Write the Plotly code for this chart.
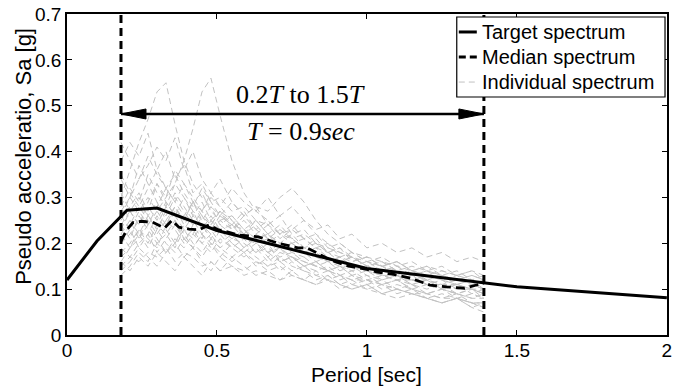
import plotly.graph_objects as go

# ---------------- data ----------------
target_T = [0.0, 0.1, 0.2, 0.3, 0.5, 0.75, 1.0, 1.5, 2.0]
target_Sa = [0.12, 0.205, 0.272, 0.277, 0.228, 0.187, 0.145, 0.105, 0.081]

median_T = [0.18, 0.20, 0.22, 0.25, 0.285, 0.31, 0.325, 0.35, 0.373, 0.407, 0.44, 0.473,
            0.506, 0.54, 0.572, 0.638, 0.70, 0.77, 0.80, 0.836, 0.88, 0.94, 1.0, 1.035,
            1.09, 1.145, 1.21, 1.266, 1.326, 1.365, 1.39]
median_Sa = [0.205, 0.23, 0.245, 0.248, 0.246, 0.238, 0.233, 0.25, 0.235, 0.231, 0.229, 0.24,
             0.229, 0.224, 0.218, 0.214, 0.201, 0.19, 0.19, 0.178, 0.163, 0.15, 0.143, 0.137,
             0.132, 0.124, 0.109, 0.105, 0.102, 0.109, 0.113]

indiv_T = [0.18, 0.21, 0.24, 0.27, 0.30, 0.33, 0.36, 0.39, 0.42, 0.45, 0.48, 0.51, 0.55, 0.59,
           0.63, 0.67, 0.71, 0.75, 0.79, 0.83, 0.87, 0.91, 0.95, 1.00, 1.05, 1.10, 1.15, 1.20,
           1.25, 1.30, 1.35, 1.39]

indiv_Sa = [
    [0.30,0.36,0.42,0.47,0.53,0.55,0.46,0.38,0.33,0.30,0.28,0.26,0.24,0.23,0.21,0.22,0.20,0.19,0.18,0.17,0.16,0.15,0.15,0.14,0.13,0.13,0.12,0.12,0.11,0.11,0.10,0.10],
    [0.20,0.22,0.25,0.24,0.27,0.30,0.33,0.38,0.45,0.53,0.56,0.48,0.38,0.31,0.27,0.25,0.22,0.21,0.19,0.18,0.17,0.16,0.15,0.14,0.13,0.12,0.12,0.11,0.11,0.10,0.10,0.09],
    [0.25,0.28,0.31,0.27,0.33,0.30,0.36,0.33,0.29,0.31,0.27,0.25,0.26,0.23,0.21,0.22,0.19,0.20,0.18,0.17,0.16,0.17,0.15,0.14,0.15,0.13,0.12,0.13,0.12,0.11,0.12,0.11],
    [0.15,0.17,0.16,0.18,0.17,0.19,0.16,0.18,0.17,0.15,0.16,0.14,0.15,0.13,0.14,0.13,0.12,0.13,0.12,0.11,0.12,0.10,0.11,0.10,0.09,0.10,0.09,0.08,0.09,0.08,0.07,0.07],
    [0.38,0.42,0.39,0.44,0.36,0.40,0.34,0.37,0.31,0.33,0.29,0.30,0.27,0.28,0.25,0.24,0.26,0.22,0.23,0.20,0.19,0.18,0.17,0.16,0.15,0.16,0.14,0.13,0.14,0.13,0.12,0.13],
    [0.22,0.25,0.21,0.26,0.24,0.22,0.25,0.21,0.23,0.20,0.22,0.19,0.21,0.20,0.18,0.19,0.17,0.18,0.16,0.15,0.14,0.15,0.13,0.12,0.11,0.12,0.10,0.11,0.10,0.09,0.10,0.09],
    [0.18,0.20,0.23,0.21,0.19,0.24,0.27,0.25,0.29,0.26,0.24,0.27,0.23,0.25,0.22,0.24,0.21,0.23,0.25,0.22,0.20,0.18,0.17,0.15,0.14,0.13,0.12,0.11,0.10,0.09,0.08,0.08],
    [0.24,0.21,0.26,0.23,0.20,0.22,0.19,0.23,0.21,0.24,0.22,0.25,0.23,0.26,0.28,0.27,0.30,0.32,0.29,0.25,0.22,0.20,0.18,0.17,0.16,0.15,0.14,0.13,0.12,0.11,0.12,0.10],
    [0.28,0.32,0.29,0.35,0.31,0.28,0.33,0.30,0.26,0.29,0.25,0.23,0.24,0.21,0.20,0.18,0.19,0.17,0.16,0.15,0.14,0.13,0.12,0.12,0.11,0.10,0.09,0.09,0.08,0.08,0.07,0.07],
    [0.13,0.15,0.18,0.16,0.20,0.18,0.21,0.19,0.22,0.20,0.18,0.21,0.19,0.17,0.19,0.16,0.18,0.17,0.15,0.16,0.14,0.13,0.14,0.12,0.13,0.12,0.11,0.10,0.11,0.09,0.10,0.09],
    [0.34,0.30,0.37,0.33,0.29,0.26,0.30,0.27,0.24,0.27,0.31,0.28,0.25,0.22,0.24,0.21,0.19,0.20,0.18,0.19,0.17,0.16,0.17,0.15,0.14,0.13,0.14,0.12,0.11,0.12,0.11,0.10],
    [0.21,0.24,0.28,0.25,0.22,0.25,0.23,0.20,0.24,0.21,0.25,0.22,0.19,0.21,0.18,0.20,0.16,0.17,0.15,0.16,0.14,0.15,0.13,0.14,0.12,0.13,0.11,0.12,0.10,0.11,0.09,0.10],
    [0.26,0.23,0.27,0.30,0.27,0.24,0.28,0.25,0.29,0.27,0.30,0.28,0.32,0.29,0.27,0.30,0.26,0.28,0.25,0.23,0.24,0.21,0.22,0.19,0.20,0.18,0.19,0.17,0.18,0.16,0.17,0.16],
    [0.17,0.19,0.22,0.19,0.23,0.20,0.18,0.21,0.19,0.17,0.20,0.18,0.16,0.18,0.15,0.17,0.14,0.16,0.14,0.13,0.12,0.13,0.11,0.12,0.10,0.11,0.10,0.09,0.08,0.09,0.07,0.06],
    [0.42,0.38,0.34,0.39,0.35,0.32,0.35,0.31,0.28,0.32,0.29,0.26,0.29,0.26,0.23,0.25,0.22,0.20,0.21,0.19,0.18,0.17,0.16,0.17,0.15,0.14,0.15,0.14,0.13,0.12,0.13,0.12],
    [0.23,0.27,0.24,0.29,0.33,0.29,0.26,0.30,0.27,0.23,0.26,0.23,0.21,0.23,0.20,0.18,0.20,0.18,0.17,0.18,0.16,0.17,0.15,0.16,0.14,0.15,0.13,0.14,0.13,0.12,0.13,0.12],
    [0.19,0.17,0.20,0.22,0.18,0.21,0.24,0.21,0.19,0.22,0.20,0.17,0.20,0.18,0.16,0.15,0.17,0.15,0.14,0.12,0.13,0.11,0.12,0.10,0.11,0.09,0.10,0.08,0.07,0.08,0.06,0.05],
    [0.31,0.27,0.24,0.28,0.25,0.29,0.26,0.23,0.26,0.24,0.21,0.24,0.22,0.19,0.22,0.20,0.22,0.24,0.21,0.19,0.20,0.17,0.18,0.16,0.15,0.16,0.14,0.15,0.14,0.13,0.14,0.13],
    [0.27,0.30,0.34,0.37,0.41,0.38,0.43,0.36,0.40,0.34,0.31,0.34,0.29,0.26,0.28,0.24,0.22,0.23,0.21,0.22,0.19,0.20,0.18,0.16,0.17,0.15,0.16,0.14,0.15,0.13,0.14,0.12],
    [0.16,0.14,0.17,0.15,0.18,0.16,0.14,0.17,0.15,0.13,0.16,0.14,0.17,0.15,0.13,0.14,0.15,0.13,0.12,0.14,0.12,0.11,0.10,0.11,0.09,0.10,0.09,0.08,0.07,0.08,0.07,0.06],
    [0.24,0.27,0.30,0.26,0.29,0.25,0.28,0.24,0.27,0.25,0.23,0.26,0.24,0.22,0.20,0.21,0.19,0.20,0.18,0.16,0.17,0.15,0.14,0.15,0.13,0.12,0.13,0.11,0.12,0.10,0.11,0.10],
    [0.20,0.23,0.19,0.22,0.26,0.23,0.20,0.24,0.22,0.26,0.23,0.20,0.22,0.19,0.21,0.18,0.16,0.17,0.15,0.14,0.15,0.13,0.12,0.13,0.11,0.12,0.10,0.09,0.10,0.09,0.08,0.09],
    [0.29,0.25,0.22,0.26,0.23,0.27,0.31,0.28,0.25,0.22,0.25,0.27,0.24,0.27,0.23,0.21,0.23,0.21,0.19,0.20,0.18,0.19,0.17,0.15,0.16,0.14,0.13,0.14,0.12,0.13,0.11,0.12],
    [0.16,0.19,0.21,0.24,0.21,0.18,0.20,0.23,0.20,0.18,0.21,0.19,0.17,0.19,0.17,0.15,0.16,0.14,0.15,0.13,0.14,0.12,0.13,0.11,0.12,0.10,0.11,0.09,0.10,0.08,0.09,0.08],
    [0.35,0.31,0.28,0.32,0.36,0.32,0.29,0.26,0.29,0.25,0.28,0.24,0.26,0.23,0.25,0.22,0.24,0.21,0.22,0.20,0.18,0.19,0.16,0.17,0.15,0.16,0.14,0.15,0.13,0.14,0.12,0.11],
    [0.22,0.19,0.23,0.20,0.24,0.28,0.25,0.22,0.19,0.22,0.19,0.23,0.20,0.18,0.20,0.17,0.19,0.16,0.17,0.15,0.16,0.14,0.15,0.13,0.12,0.13,0.11,0.12,0.10,0.11,0.10,0.08],
    [0.26,0.30,0.27,0.24,0.28,0.32,0.29,0.33,0.30,0.27,0.24,0.27,0.25,0.22,0.25,0.22,0.20,0.22,0.19,0.21,0.18,0.16,0.17,0.15,0.16,0.14,0.13,0.12,0.13,0.11,0.12,0.11],
    [0.14,0.16,0.19,0.17,0.15,0.18,0.20,0.17,0.19,0.16,0.14,0.17,0.15,0.14,0.16,0.14,0.12,0.14,0.12,0.11,0.13,0.11,0.10,0.11,0.09,0.08,0.09,0.08,0.07,0.08,0.06,0.07],
]

T_fund = 0.9
bound_T = [0.18, 1.39]
arrow_Sa = 0.482
x_ticks = [0, 0.5, 1, 1.5, 2]
x_ticktext = ["0", "0.5", "1", "1.5", "2"]
y_ticks = [0, 0.1, 0.2, 0.3, 0.4, 0.5, 0.6, 0.7]
y_ticktext = ["0", "0.1", "0.2", "0.3", "0.4", "0.5", "0.6", "0.7"]
legend_labels = ["Target spectrum", "Median spectrum", "Individual spectrum"]

# ---------------- figure ----------------
fig = go.Figure()

for s in indiv_Sa:
    fig.add_trace(go.Scatter(x=indiv_T, y=s, mode="lines",
                             line=dict(color="#c2c2c2", width=1, dash="6px,4px"),
                             showlegend=False, hoverinfo="skip"))

for bx in bound_T:
    fig.add_trace(go.Scatter(x=[bx, bx], y=[0, 0.7], mode="lines",
                             line=dict(color="black", width=3, dash="8px,5px"),
                             showlegend=False, hoverinfo="skip"))

fig.add_trace(go.Scatter(x=target_T, y=target_Sa, mode="lines",
                         line=dict(color="black", width=3), showlegend=False))
fig.add_trace(go.Scatter(x=median_T, y=median_Sa, mode="lines",
                         line=dict(color="black", width=2.8, dash="9px,5px"), showlegend=False))

# double arrow: shaft + two narrow filled heads (pixel-sized, anchored in data coords)
fig.add_shape(type="line", xref="x", yref="y", x0=bound_T[0], x1=bound_T[1],
              y0=arrow_Sa, y1=arrow_Sa, line=dict(color="black", width=2.5), layer="above")
fig.add_shape(type="path", xref="x", yref="y", xsizemode="pixel", ysizemode="pixel",
              xanchor=bound_T[0], yanchor=arrow_Sa, path="M0,0 L25,5 L25,-5 Z",
              fillcolor="black", line=dict(color="black", width=1), layer="above")
fig.add_shape(type="path", xref="x", yref="y", xsizemode="pixel", ysizemode="pixel",
              xanchor=bound_T[1], yanchor=arrow_Sa, path="M0,0 L-25,5 L-25,-5 Z",
              fillcolor="black", line=dict(color="black", width=1), layer="above")

serif = dict(family="Liberation Serif", size=26, color="black")
fig.add_annotation(x=0.778, y=0.525, xref="x", yref="y", showarrow=False,
                   text="0.2<i>T</i> to 1.5<i>T</i>", font=serif)
fig.add_annotation(x=0.78, y=0.443, xref="x", yref="y", showarrow=False,
                   text="<i>T</i> = 0.9<i>sec</i>", font=serif)

sans = "Liberation Sans"
# axis titles
fig.add_annotation(x=-0.0736, y=0.5576, xref="paper", yref="paper", showarrow=False,
                   text="Pseudo acceleratio, Sa [g]", textangle=-90,
                   font=dict(family=sans, size=22, color="black"),
                   xanchor="center", yanchor="middle")
fig.add_annotation(x=0.499, y=-0.124, xref="paper", yref="paper", showarrow=False,
                   text="Period [sec]", font=dict(family=sans, size=21, color="black"),
                   xanchor="center", yanchor="middle")

# custom legend
lx0, lx1, ly0, ly1 = 0.6496, 0.9967, 0.7414, 0.9907
fig.add_shape(type="rect", xref="paper", yref="paper", x0=lx0, x1=lx1, y0=ly0, y1=ly1,
              line=dict(color="black", width=1.2), fillcolor="white", layer="above")
rows_y = [0.944, 0.866, 0.788]
samples = [dict(color="black", width=3),
           dict(color="black", width=2.8, dash="7px,4px"),
           dict(color="#c2c2c2", width=1, dash="6px,4px")]
for ry, lab, ln in zip(rows_y, legend_labels, samples):
    fig.add_shape(type="line", xref="paper", yref="paper", x0=0.653, x1=0.683, y0=ry, y1=ry,
                  line=ln, layer="above")
    fig.add_annotation(x=0.6876, y=ry, xref="paper", yref="paper", showarrow=False,
                       text=lab, xanchor="left", yanchor="middle",
                       font=dict(family=sans, size=20, color="black"))

fig.update_xaxes(range=[0, 2.0005], tickvals=x_ticks, ticktext=x_ticktext,
                 showline=True, mirror="ticks", linecolor="black", linewidth=1.5,
                 ticks="inside", ticklen=5, tickcolor="black", tickwidth=1,
                 showgrid=False, zeroline=False, ticklabelstandoff=-3,
                 ticklabeloverflow="allow",
                 tickfont=dict(family=sans, size=19, color="black"))
fig.update_yaxes(range=[0, 0.7], tickvals=y_ticks, ticktext=y_ticktext,
                 showline=True, mirror="ticks", linecolor="black", linewidth=1.5,
                 ticks="inside", ticklen=5, tickcolor="black", tickwidth=1,
                 showgrid=False, zeroline=False, ticklabeloverflow="allow",
                 tickfont=dict(family=sans, size=19, color="black"))

fig.update_layout(width=675, height=387, margin=dict(l=67, r=3, t=14, b=52),
                  plot_bgcolor="white", paper_bgcolor="white", showlegend=False)

fig.write_html("out.html")
